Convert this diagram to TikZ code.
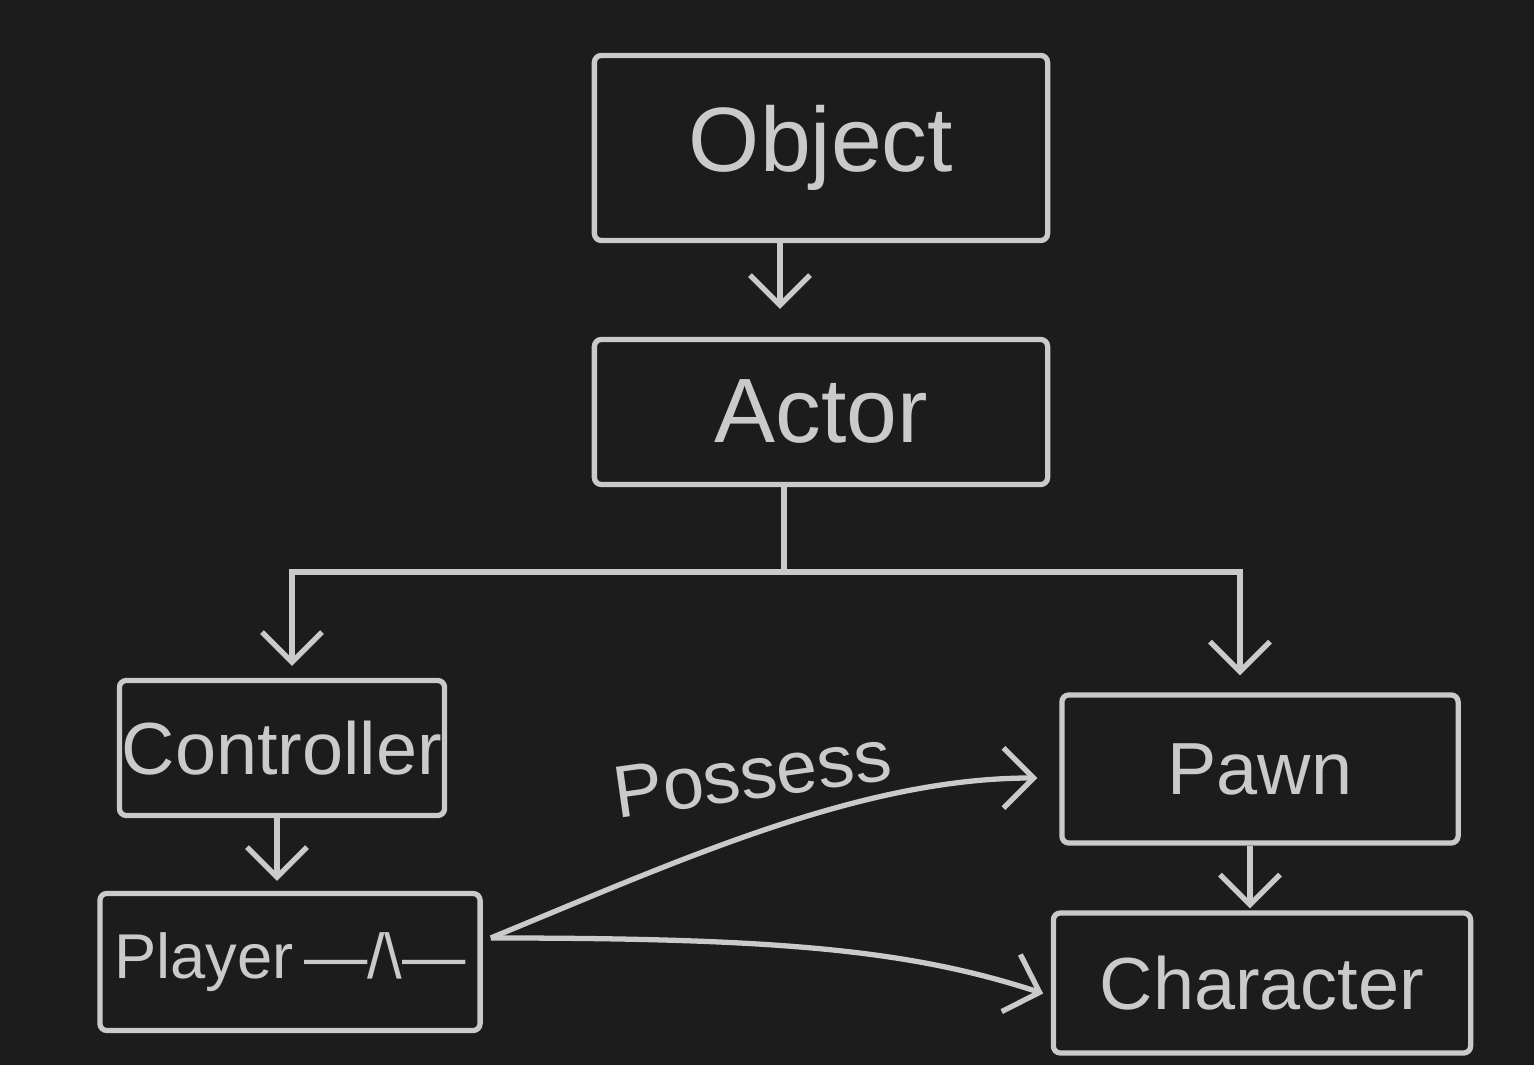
\documentclass[tikz,border=0pt]{standalone}
\usepackage{fontspec}
\setmainfont{Liberation Sans}
\usetikzlibrary{arrows.meta}
\definecolor{board}{HTML}{1C1C1C}
\definecolor{chalk}{HTML}{CACACA}

\begin{document}
\begin{tikzpicture}[x=0.01cm,y=-0.01cm,
  line width=1.5pt,draw=chalk,text=chalk,
  box/.style={draw,rectangle,rounded corners=2pt,inner sep=0pt},
  arr/.style={-{Straight Barb[length=0.3cm,width=0.6cm]}},
  big/.style={font=\fontsize{26}{30}\selectfont},
  mid/.style={font=\fontsize{21}{25}\selectfont}]
  % board
  \fill[board] (0,0) rectangle (1534,1065);
  \useasboundingbox (0,0) rectangle (1534,1065);
  % class boxes
  \node[box,big,minimum width=4.53cm,minimum height=1.85cm] (obj) at (821,148) {Object};
  \node[box,big,minimum width=4.53cm,minimum height=1.45cm] (act) at (821,412) {Actor};
  \node[box,mid,minimum width=3.25cm,minimum height=1.35cm] (ctl) at (282,748) {Controller};
  \node[box,mid,minimum width=3.8cm,minimum height=1.37cm] (ply) at (290,962)
    {\fontsize{18}{22}\selectfont Player\,—/\textbackslash—};
  \node[box,mid,minimum width=3.96cm,minimum height=1.48cm] (pawn) at (1260,769) {Pawn};
  \node[box,mid,minimum width=4.17cm,minimum height=1.4cm] (chr) at (1262,983) {Character};
  % inheritance
  \draw[arr,shorten >=0.28cm] ([xshift=-0.41cm]obj.south) -- ([xshift=-0.41cm]act.north);
  \coordinate (split) at (784,572);
  \draw (act.south -| split) -- (split);
  \draw[arr,shorten >=0.12cm] (split) -| ([xshift=0.1cm]ctl.north);
  \draw[arr,shorten >=0.17cm] (split) -| ([xshift=-0.2cm]pawn.north);
  \draw[arr,shorten >=0.1cm] ([xshift=-0.05cm]ctl.south) -- ([xshift=-0.05cm]ctl.south |- ply.north);
  \draw[arr,shorten >=0.02cm] ([xshift=-0.1cm]pawn.south) -- ([xshift=-0.1cm]pawn.south |- chr.north);
  % possess
  \draw[arr,shorten >=0.22cm] ([xshift=0.08cm,yshift=0.24cm]ply.east)
    .. controls (680,860) and (860,778) .. ([yshift=-0.09cm]pawn.west);
  \draw[arr,shorten >=0.08cm] ([xshift=0.08cm,yshift=0.24cm]ply.east)
    .. controls (780,938) and (910,950) .. ([yshift=-0.13cm]chr.west);
  \node[rotate=8,font=\fontsize{21}{25}\selectfont] (possess) at (752,774) {Possess};
\end{tikzpicture}
\end{document}
